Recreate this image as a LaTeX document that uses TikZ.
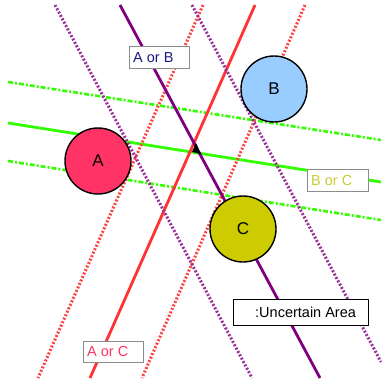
\documentclass[tikz,border=0pt]{standalone}
\usepackage{fontspec}
\setmainfont{Liberation Sans}
\begin{document}
\begin{tikzpicture}[x=1pt,y=-1pt,
  solidline/.style={line width=2.8pt},
  dotline/.style={line width=3pt, dash pattern=on 2pt off 1.8pt},
  dashdotline/.style={line width=2.6pt, dash pattern=on 5pt off 2pt on 2pt off 2pt},
  station/.style={circle, draw=black, line width=1.4pt, minimum size=66pt, inner sep=0pt, font=\fontsize{17}{17}\selectfont},
  lbl/.style={draw=black!45, fill=white, line width=1pt, inner sep=0pt, anchor=north west},
  lbltext/.style={anchor=west, font=\fontsize{14.5}{14.5}\selectfont, inner sep=0pt},
]
\definecolor{purp}{HTML}{800080}
\definecolor{purpd}{HTML}{993399}
\definecolor{redl}{HTML}{FF3333}
\definecolor{redd}{HTML}{FF4444}
\definecolor{grn}{HTML}{33FF00}
\definecolor{colA}{HTML}{FF3366}
\definecolor{colB}{HTML}{99CCFF}
\definecolor{colC}{HTML}{CCCC00}
\definecolor{navy}{HTML}{1A1A80}
\definecolor{yel}{HTML}{CCCC33}
\useasboundingbox (0,0) rectangle (381,385);
\fill[white] (0,0) rectangle (381,385);
% green lines
\draw[grn, dashdotline] (8,82) -- (381,140);
\draw[grn, solidline] (8,123) -- (381,182);
\draw[grn, dashdotline] (8,161) -- (381,220);
% red lines
\draw[redd, dotline] (203,5) -- (38,378);
\draw[redl, solidline] (255,5) -- (90,378);
\draw[redd, dotline] (305,5) -- (142,378);
% purple lines
\draw[purpd, dotline] (55,5) -- (252,378);
\draw[purp, solidline] (120,5) -- (320,378);
\draw[purpd, dotline] (192,5) -- (381,362);
% uncertain area
\fill[black] (196,143) -- (192,152) -- (201,154) -- cycle;
% stations
\node[station, fill=colA] (A) at (98,161) {A};
\node[station, fill=colB] (B) at (274,89) {B};
\node[station, fill=colC] (C) at (243,229) {C};
% labels
\node[lbl, minimum width=60pt, minimum height=22pt] (AB) at (129,46) {};
\node[lbltext, navy] (ABt) at ([xshift=4pt]AB.west) {A or B};
\node[lbl, minimum width=61pt, minimum height=22pt] (BC) at (307,169) {};
\node[lbltext, yel] (BCt) at ([xshift=4pt]BC.west) {B or C};
\node[lbl, draw=black, minimum width=135pt, minimum height=26pt] (UA) at (233,299) {};
\node[lbltext, black] (UAt) at ([xshift=22pt]UA.west) {:Uncertain Area};
\node[lbl, minimum width=60pt, minimum height=21pt] (AC) at (83,341) {};
\node[lbltext, colA] (ACt) at ([xshift=4pt]AC.west) {A or C};
\end{tikzpicture}
\end{document}
